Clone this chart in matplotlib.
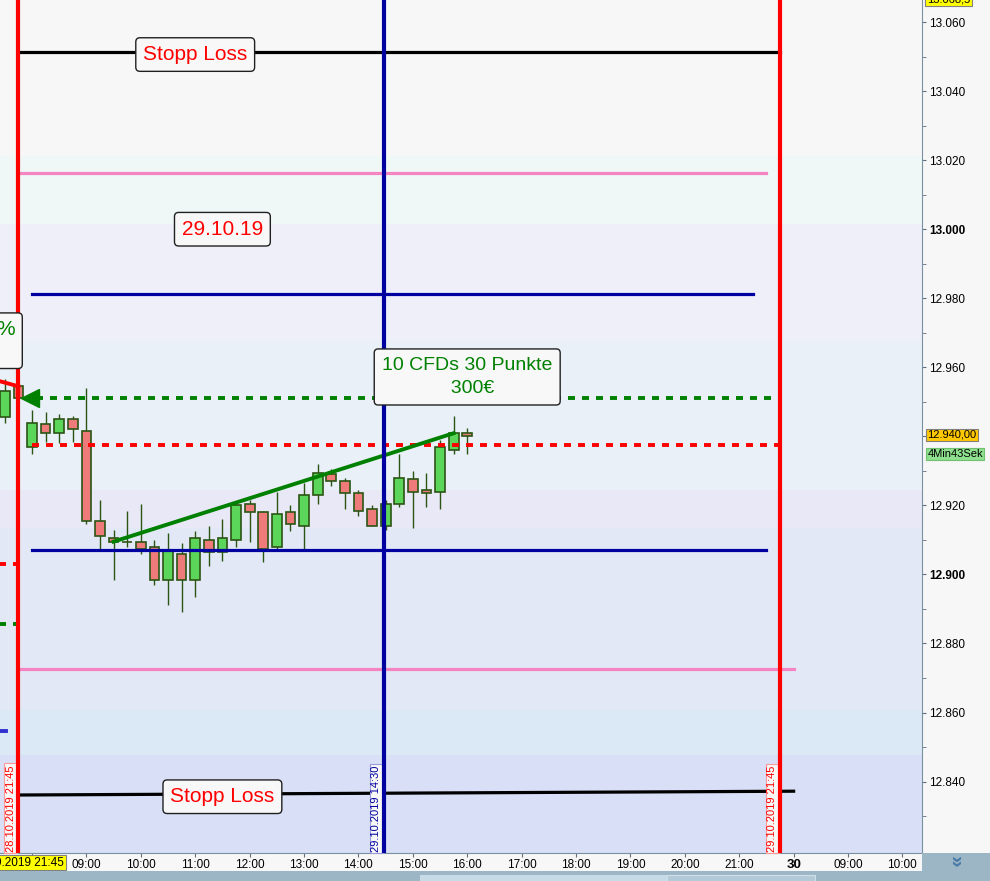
import matplotlib
matplotlib.use('Agg')
import matplotlib.pyplot as plt
from matplotlib.patches import Rectangle

plt.rcParams['font.family'] = ['Liberation Sans', 'DejaVu Sans']

# 15 minute candles, index 0 = 29.10.2019 08:00, index -1 = 28.10.2019 21:45
candle_idx = list(range(-2, 33))
opens = [12945.5, 12954.5, 12937.0, 12943.5, 12941.0, 12945.0, 12941.5, 12915.5, 12910.5, 12909.5,
         12909.5, 12908.0, 12898.5, 12906.0, 12898.5, 12910.0, 12906.5, 12910.0, 12920.5, 12918.0,
         12908.0, 12918.0, 12914.0, 12923.0, 12929.0, 12927.0, 12923.5, 12919.0, 12914.0, 12920.5,
         12927.5, 12924.5, 12924.0, 12936.0, 12941.0]
highs = [12956.5, 12955.5, 12947.5, 12947.0, 12946.5, 12946.0, 12954.0, 12921.5, 12913.0, 12918.5,
         12920.5, 12910.0, 12912.0, 12909.0, 12912.5, 12914.0, 12916.0, 12921.0, 12921.5, 12918.5,
         12924.0, 12920.0, 12926.5, 12932.0, 12930.5, 12928.0, 12924.5, 12920.0, 12921.5, 12935.0,
         12930.0, 12929.5, 12939.0, 12946.0, 12942.5]
lows = [12944.0, 12950.0, 12935.0, 12938.5, 12938.0, 12938.5, 12914.5, 12907.5, 12898.5, 12908.0,
        12906.0, 12897.0, 12891.0, 12889.0, 12893.5, 12902.5, 12904.0, 12908.0, 12909.5, 12903.5,
        12907.5, 12912.5, 12907.5, 12920.5, 12925.5, 12919.0, 12917.0, 12914.0, 12913.0, 12919.5,
        12913.5, 12919.5, 12919.0, 12935.0, 12935.0]
closes = [12953.0, 12951.0, 12944.0, 12941.0, 12945.0, 12942.0, 12915.5, 12911.0, 12909.5, 12909.5,
          12907.5, 12898.5, 12907.0, 12898.5, 12910.5, 12906.5, 12910.5, 12920.0, 12918.0, 12907.5,
          12917.5, 12914.5, 12923.0, 12929.5, 12927.0, 12923.5, 12918.5, 12914.0, 12920.5, 12928.0,
          12924.0, 12923.5, 12937.0, 12941.0, 12940.0]

# x axis labels (candle index -> text)
tick_idx = [0, 4, 8, 12, 16, 20, 24, 28, 32, 36, 40, 44, 48, 52, 56, 60, 64]
tick_labels = ['', '09:00', '10:00', '11:00', '12:00', '13:00', '14:00', '15:00', '16:00',
               '17:00', '18:00', '19:00', '20:00', '21:00', '30', '09:00', '10:00']

# drawn levels
stop_loss_top = 13051.3
pink_top = 13016.3
navy_top = 12981.2
last_close_prev = 12951.2
red_dotted = 12937.6
navy_low = 12907.2
pink_low = 12872.7
stop_loss_low = [12836.1, 12837.2]
trend_x = [6, 31]
trend_y = [12909.5, 12940.9]
prev_red_line = [12956.0, 12954.5]
last_price = 12940.0

# background bands (price edges, colours)
band_edges = [13066.4, 13021.2, 13001.5, 12967.6, 12924.4, 12913.4, 12860.7, 12847.6, 12819.3]
band_colors = ['#f7f7f8', '#eff8f6', '#eeeff9', '#e9f0f8', '#e9e8f6', '#e3e8f6', '#dbe8f6', '#d8dff6']

W, H = 990, 881
fig = plt.figure(figsize=(W / 100, H / 100), dpi=100, facecolor='#f7f7f7')
ax = fig.add_axes([0, 28 / H, 922 / W, 853 / H])
ax.set_xlim(-2.353, 65.44)
ax.set_ylim(12819.3, 13066.4)

for i in range(len(band_colors)):
    ax.axhspan(band_edges[i + 1], band_edges[i], color=band_colors[i], lw=0, zorder=0)

# candles
edge = '#2b5514'
ax.vlines(candle_idx, lows, highs, color=edge, lw=1, zorder=2)
bottoms = [min(o, c) for o, c in zip(opens, closes)]
heights = [abs(c - o) for o, c in zip(opens, closes)]
cols = ['#5bd65b' if c >= o else '#ee7a7a' for o, c in zip(opens, closes)]
ax.bar(candle_idx, heights, bottom=bottoms, width=0.72, color=cols, edgecolor=edge, linewidth=1.2, zorder=3)

# horizontal drawings
ax.plot([-1, 55], [stop_loss_top] * 2, color='black', lw=2.3, zorder=4)
ax.plot([-1, 54], [pink_top] * 2, color='#f584c2', lw=2.3, zorder=4)
ax.plot([0, 53], [navy_top] * 2, color='#0000a0', lw=2.3, zorder=4)
ax.plot([0.3, 55], [last_close_prev] * 2, color='#008000', lw=2.8, ls=(0, (1.8, 1.8)), zorder=4)
ax.plot([-0.15], [last_close_prev], marker='<', color='#008000', markersize=13, zorder=6)
ax.plot([0, 55], [red_dotted] * 2, color='#ff0000', lw=2.8, ls=(0, (1.8, 1.8)), zorder=4)
ax.plot([0, 54], [navy_low] * 2, color='#0000a0', lw=2.3, zorder=4)
ax.plot([-1, 56], [pink_low] * 2, color='#f584c2', lw=2.3, zorder=4)
ax.plot([-1, 56], stop_loss_low, color='black', lw=2.3, zorder=4)
ax.plot(trend_x, trend_y, color='#008000', lw=2.8, zorder=5)

# leftovers from the previous day at the left edge
ax.plot([-2.4, -1], prev_red_line, color='#ff0000', lw=2.8, zorder=4)
ax.plot([-2.4, -1], [12903.1] * 2, color='#ff0000', lw=2.8, ls=(0, (1.8, 1.8)), zorder=4)
ax.plot([-2.4, -1], [12885.7] * 2, color='#008000', lw=2.8, ls=(0, (1.8, 1.8)), zorder=4)
ax.plot([-2.4, -1.9], [12854.7] * 2, color='#3030d0', lw=2.8, zorder=4)

# vertical lines
ax.axvline(-1, color='#ff0000', lw=3, zorder=6)
ax.axvline(25.9, color='#0000a0', lw=3, zorder=6)
ax.axvline(55, color='#ff0000', lw=3, zorder=6)

box = dict(boxstyle='round,pad=0.35,rounding_size=0.2', fc='#f8f8f8', ec='#202020', lw=1)
ax.text(12, 13050.6, 'Stopp Loss', color='#ff0000', fontsize=15, ha='center', va='center', bbox=box, zorder=7)
ax.text(14, 12835.6, 'Stopp Loss', color='#ff0000', fontsize=15, ha='center', va='center', bbox=box, zorder=7)
ax.text(14, 13000.0, '29.10.19', color='#ff0000', fontsize=15, ha='center', va='center', bbox=box, zorder=7)
box2 = dict(boxstyle='round,pad=0.4,rounding_size=0.2', fc='#f8f8f8', ec='#202020', lw=1)
ax.text(32, 12957.2, '10 CFDs 30 Punkte\n  300€', color='#008000', fontsize=14, ha='center', va='center',
        multialignment='center', linespacing=1.5, bbox=box2, zorder=7)
ax.text(-1.25, 12967.7, '%\n ', color='#008000', fontsize=15, ha='right', va='center',
        multialignment='right', bbox=box, zorder=7)

# vertical date tags at the lines
for xi, txt, c, ec in [(-1, '28.10.2019 21:45', '#ff0000', '#ff9a9a'),
                       (25.9, '29.10.2019 14:30', '#0000a0', '#9a9ad8'),
                       (55, '29.10.2019 21:45', '#ff0000', '#ff9a9a')]:
    ax.annotate(txt, xy=(xi, 12819.3), xytext=(-2, 1), textcoords='offset points',
                rotation=90, ha='right', va='bottom', color=c, fontsize=8,
                bbox=dict(boxstyle='square,pad=0.15', fc='#f8f8f8', ec=ec, lw=0.8), zorder=5)

# axes styling
for s in ['top', 'left']:
    ax.spines[s].set_visible(False)
for s in ['right', 'bottom']:
    ax.spines[s].set_color('#7890a0')
ax.yaxis.tick_right()
yt = list(range(12840, 13061, 20))
# the 12.940 label sits under the last price tag
ax.set_yticks(yt, ['' if v == 12940 else f'{v / 1000:.3f}' for v in yt])
ax.set_yticks(list(range(12830, 13060, 20)), minor=True)
ax.tick_params(axis='y', which='both', direction='out', length=3, color='#607080',
               labelsize=8.5, pad=2, labelcolor='black')
for lbl in ax.get_yticklabels():
    if lbl.get_text() in ('13.000', '12.900'):
        lbl.set_fontweight('bold')
ax.set_xticks(tick_idx, tick_labels)
ax.tick_params(axis='x', direction='out', length=3, color='#607080', labelsize=8.5, pad=1.5)
for lbl in ax.get_xticklabels():
    if lbl.get_text() == '30':
        lbl.set_fontweight('bold')
        lbl.set_fontsize(9.5)

# price tags on the right axis
ax.annotate(f'{last_price:,.2f}'.replace(',', 'X').replace('.', ',').replace('X', '.'),
            xy=(1, last_price), xycoords=('axes fraction', 'data'), xytext=(4, 1),
            textcoords='offset points', ha='left', va='center', fontsize=8,
            bbox=dict(boxstyle='square,pad=0.1', fc='#ffc800', ec='#808080', lw=0.8))
ax.annotate('4Min43Sek', xy=(1, last_price), xycoords=('axes fraction', 'data'), xytext=(4, -12.5),
            textcoords='offset points', ha='left', va='center', fontsize=8,
            bbox=dict(boxstyle='square,pad=0.1', fc='#8ee08e', ec='#70c070', lw=0.8))
fig.text(927 / W, 1 + 1 / H, '13.068,5', ha='left', va='center', fontsize=8,
         bbox=dict(boxstyle='square,pad=0.15', fc='#ffff00', ec='#808080', lw=0.8))

# crosshair date tag on the time axis
ax.annotate('28.10.2019 21:45', xy=(-1, 0), xycoords=('data', 'axes fraction'), xytext=(0, -9.5),
            textcoords='offset pixels', ha='center', va='center', fontsize=8.5,
            bbox=dict(boxstyle='square,pad=0.15', fc='#ffff00', ec='#808080', lw=0.8))

# bottom strip / corner
fig.add_artist(Rectangle((0, 0), 1, 10 / H, transform=fig.transFigure, fc='#9db6c5', ec='none'))
fig.add_artist(Rectangle((420 / W, 0), 247 / W, 6 / H, transform=fig.transFigure, fc='#c6dbe6', ec='none'))
fig.add_artist(Rectangle((667 / W, 0), 148 / W, 6 / H, transform=fig.transFigure, fc='#b2cad8', ec='#d0e0ea', lw=0.8))
fig.add_artist(Rectangle((922 / W, 0), 68 / W, 28 / H, transform=fig.transFigure, fc='#9db6c5', ec='none'))
fig.text(955 / W, 19 / H, '»', rotation=-90, ha='center', va='center', fontsize=15,
         fontweight='bold', color='#4a7aa8')

fig.savefig('out.png', dpi=100, facecolor=fig.get_facecolor())
